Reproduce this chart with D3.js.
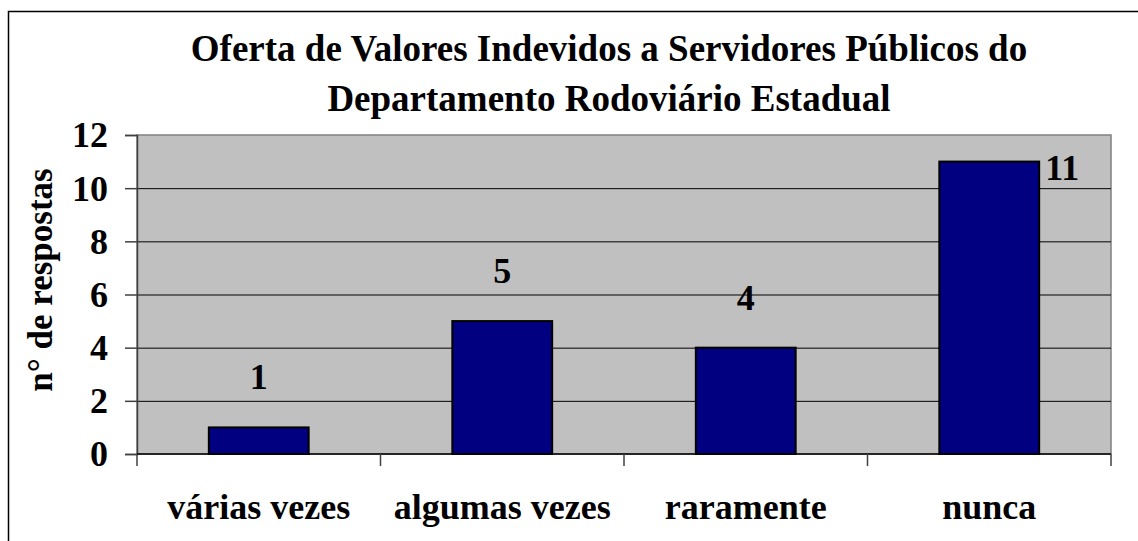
<!DOCTYPE html>
<html>
<head>
<meta charset="utf-8">
<script src="https://cdn.jsdelivr.net/npm/d3@7.9.0/dist/d3.min.js"></script>
<style>
  html, body { margin: 0; padding: 0; background: #fff; }
  svg { display: block; }
  text { font-family: "Liberation Serif", "Times New Roman", serif; font-weight: bold; fill: #000; }
</style>
</head>
<body>
<svg id="chart" width="1138" height="541"></svg>
<script>
// ---------- Data ----------
const titleLines = [
  "Oferta de Valores Indevidos a Servidores Públicos do",
  "Departamento Rodoviário Estadual"
];
const categories = ["várias vezes", "algumas vezes", "raramente", "nunca"];
const values = [1, 5, 4, 11];
const yTicks = [0, 2, 4, 6, 8, 10, 12];
const yLabel = "n° de respostas";

// ---------- Layout ----------
const width = 1138;
const height = 541;
const plot = { left: 137, right: 1111, top: 135, bottom: 454 };

const svg = d3.select("#chart");

// outer frame (only top and left edges fall inside the picture)
svg.append("rect")
  .attr("x", 8.5).attr("y", 11.5)
  .attr("width", width + 20).attr("height", height + 20)
  .attr("fill", "#fff").attr("stroke", "#000").attr("stroke-width", 1.5);

// title
svg.append("g")
  .selectAll("text")
  .data(titleLines)
  .join("text")
  .attr("x", 609)
  .attr("y", (d, i) => 61 + i * 50)
  .attr("text-anchor", "middle")
  .attr("font-size", 37)
  .text((d) => d);

// scales
const x = d3.scaleBand().domain(categories).range([plot.left, plot.right]).padding(0);
const y = d3.scaleLinear().domain([0, 12]).range([plot.bottom, plot.top]);
const barW = x.bandwidth() * 0.41;

// plot background
svg.append("rect")
  .attr("x", plot.left).attr("y", plot.top)
  .attr("width", plot.right - plot.left).attr("height", plot.bottom - plot.top)
  .attr("fill", "#c0c0c0").attr("stroke", "#808080").attr("stroke-width", 1.5);

// gridlines
svg.append("g")
  .attr("transform", `translate(${plot.left},0)`)
  .call(d3.axisLeft(y).tickValues(yTicks.filter((t) => t > 0 && t < 12))
    .tickSize(-(plot.right - plot.left)).tickFormat(""))
  .call((g) => g.select(".domain").remove())
  .call((g) => g.selectAll("line").attr("stroke", "#000").attr("stroke-width", 1));

// bars
svg.append("g")
  .selectAll("rect")
  .data(values)
  .join("rect")
  .attr("x", (d, i) => x(categories[i]) + (x.bandwidth() - barW) / 2)
  .attr("y", (d) => y(d))
  .attr("width", barW)
  .attr("height", (d) => y(0) - y(d))
  .attr("fill", "#000080")
  .attr("stroke", "#000")
  .attr("stroke-width", 2);

// y axis
const yAxis = svg.append("g")
  .attr("transform", `translate(${plot.left},0)`)
  .call(d3.axisLeft(y).tickValues(yTicks).tickSize(12).tickPadding(17))
  .call((g) => g.select(".domain").attr("stroke", "#404040").attr("stroke-width", 1.5));
yAxis.selectAll("line").attr("stroke", "#404040").attr("stroke-width", 1.5);
yAxis.selectAll("text")
  .attr("font-size", 36)
  .attr("font-family", "Liberation Serif, Times New Roman, serif")
  .attr("font-weight", "bold")
  .attr("dy", "0.33em");

// x axis (ticks at category boundaries)
const xAxis = svg.append("g")
  .attr("transform", `translate(0,${plot.bottom})`);
xAxis.append("line")
  .attr("x1", plot.left).attr("x2", plot.right)
  .attr("stroke", "#000").attr("stroke-width", 1.5);
const bounds = categories.map((c) => x(c)).concat([x.range()[1]]);
xAxis.selectAll("line.tick")
  .data(bounds)
  .join("line")
  .attr("class", "tick")
  .attr("x1", (d) => d).attr("x2", (d) => d)
  .attr("y1", 0).attr("y2", 12)
  .attr("stroke", "#404040").attr("stroke-width", 1.5);
xAxis.selectAll("text")
  .data(categories)
  .join("text")
  .attr("x", (d) => x(d) + x.bandwidth() / 2)
  .attr("y", 65)
  .attr("text-anchor", "middle")
  .attr("font-size", 36)
  .text((d) => d);

// value labels: above the bar, or beside it if it would leave the plot
svg.append("g")
  .selectAll("text")
  .data(values)
  .join("text")
  .each(function (d, i) {
    const cx = x(categories[i]) + x.bandwidth() / 2;
    const above = y(d) - 38;
    const t = d3.select(this).attr("font-size", 36).text(d);
    if (above - 26 < plot.top) {
      t.attr("x", cx + barW / 2 + 6).attr("y", y(d) + 18).attr("text-anchor", "start");
    } else {
      t.attr("x", cx).attr("y", above).attr("text-anchor", "middle");
    }
  });

// y label
svg.append("text")
  .attr("transform", `translate(52,280) rotate(-90)`)
  .attr("text-anchor", "middle")
  .attr("font-size", 35)
  .text(yLabel);
</script>
</body>
</html>
